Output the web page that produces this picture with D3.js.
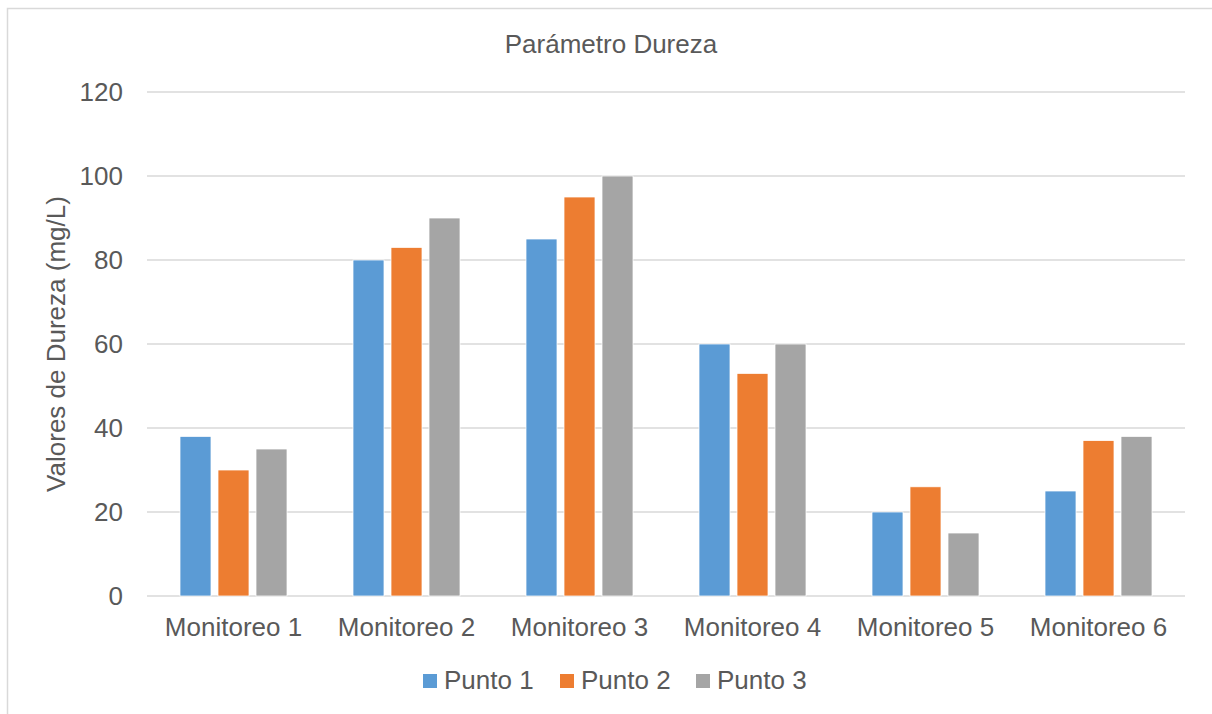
<!DOCTYPE html>
<html>
<head>
<meta charset="utf-8">
<script src="https://cdn.jsdelivr.net/npm/d3@7"></script>
<style>
  body { margin: 0; background: #fff; }
  text { font-family: "Liberation Sans", Arial, sans-serif; fill: #595959; }
</style>
</head>
<body>
<div id="chart"></div>
<script>
// data
let categories = ["Monitoreo 1", "Monitoreo 2", "Monitoreo 3", "Monitoreo 4", "Monitoreo 5", "Monitoreo 6"];
let seriesNames = ["Punto 1", "Punto 2", "Punto 3"];
let punto1 = [38, 80, 85, 60, 20, 25];
let punto2 = [30, 83, 95, 53, 26, 37];
let punto3 = [35, 90, 100, 60, 15, 38];
let yTicks = [0, 20, 40, 60, 80, 100, 120];
let colors = ["#5b9bd5", "#ed7d31", "#a5a5a5"];

let width = 1212, height = 714;
let plotLeft = 147, plotRight = 1185, plotTop = 92, plotBottom = 596;

let svg = d3.select("#chart")
  .append("svg")
  .attr("width", width)
  .attr("height", height);

// outer frame (only left and top visible)
svg.append("rect")
  .attr("x", 7.5).attr("y", 8.5)
  .attr("width", width + 20).attr("height", height + 20)
  .attr("fill", "none")
  .attr("stroke", "#d9d9d9")
  .attr("stroke-width", 1.5);

let x0 = d3.scaleBand()
  .domain(categories)
  .range([plotLeft, plotRight])
  .paddingInner(66 / 173)
  .paddingOuter(33 / 173);

let x1 = d3.scaleBand()
  .domain(seriesNames)
  .range([0, x0.bandwidth()])
  .paddingInner(7 / 38);

let y = d3.scaleLinear()
  .domain([0, 120])
  .range([plotBottom, plotTop]);

let color = d3.scaleOrdinal()
  .domain(seriesNames)
  .range(colors);

//gridlines
svg.append("g")
  .selectAll("line")
  .data(yTicks)
  .enter()
  .append("line")
  .attr("x1", plotLeft).attr("x2", plotRight)
  .attr("y1", d => y(d)).attr("y2", d => y(d))
  .attr("stroke", "#d9d9d9")
  .attr("stroke-width", 1.5);

// y tick labels
svg.append("g")
  .selectAll("text")
  .data(yTicks)
  .enter()
  .append("text")
  .attr("x", 123)
  .attr("y", d => y(d))
  .attr("dy", "0.35em")
  .attr("text-anchor", "end")
  .style("font-size", "26px")
  .text(d => d);

// bars
let rows = categories.map((c, i) => ({
  cat: c,
  values: [punto1[i], punto2[i], punto3[i]]
}));

let groups = svg.append("g")
  .selectAll("g")
  .data(rows)
  .enter()
  .append("g")
  .attr("transform", d => "translate(" + x0(d.cat) + ",0)");

groups.selectAll("rect")
  .data(d => d.values.map((v, j) => ({ key: seriesNames[j], value: v })))
  .enter()
  .append("rect")
  .attr("x", d => x1(d.key))
  .attr("y", d => y(d.value))
  .attr("width", x1.bandwidth())
  .attr("height", d => y(0) - y(d.value))
  .attr("fill", d => color(d.key))
  .attr("stroke", "#ffffff")
  .attr("stroke-width", 0.75);

// category labels
svg.append("g")
  .selectAll("text")
  .data(categories)
  .enter()
  .append("text")
  .attr("x", d => x0(d) + x0.bandwidth() / 2)
  .attr("y", 636)
  .attr("text-anchor", "middle")
  .style("font-size", "26px")
  .text(d => d);

// title
svg.append("text")
  .attr("x", 611)
  .attr("y", 53)
  .attr("text-anchor", "middle")
  .style("font-size", "26px")
  .text("Parámetro Dureza");

// y axis title
svg.append("text")
  .attr("transform", "translate(65," + ((plotTop + plotBottom) / 2) + ") rotate(-90)")
  .attr("text-anchor", "middle")
  .style("font-size", "26px")
  .text("Valores de Dureza (mg/L)");

// legend
let legendX = [423, 560, 696];
let legend = svg.append("g")
  .selectAll("g")
  .data(seriesNames)
  .enter()
  .append("g")
  .attr("transform", (d, i) => "translate(" + legendX[i] + ",674)");

legend.append("rect")
  .attr("width", 14)
  .attr("height", 14)
  .attr("fill", d => color(d));

legend.append("text")
  .attr("x", 21)
  .attr("y", 15)
  .style("font-size", "26px")
  .text(d => d);
</script>
</body>
</html>
